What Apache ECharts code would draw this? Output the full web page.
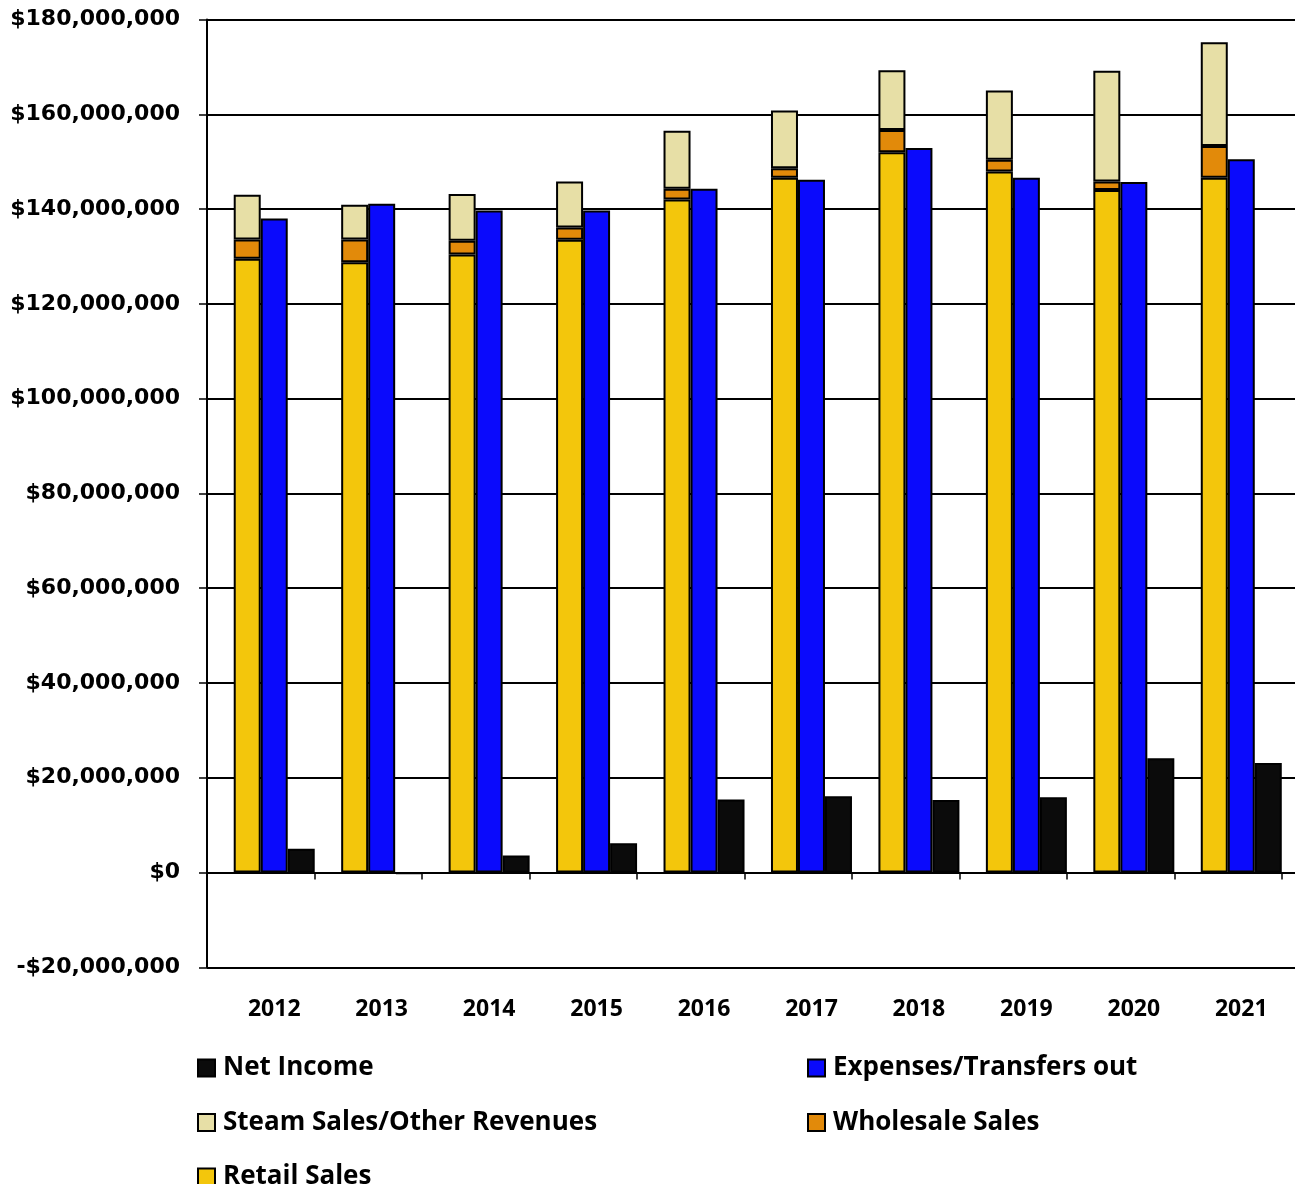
<!DOCTYPE html>
<html>
<head>
<meta charset="utf-8">
<script src="https://cdn.jsdelivr.net/npm/echarts@6/dist/echarts.min.js"></script>
<style>
  html, body { margin: 0; padding: 0; background: #fff; }
  #chart { width: 1295px; height: 1184px; }
</style>
</head>
<body>
<div id="chart"></div>
<script>
// Fiscal years on the category axis
const years = ['2012', '2013', '2014', '2015', '2016', '2017', '2018', '2019', '2020', '2021'];

// Revenue components (stacked), in dollars
const retailSales    = [129500000, 128800000, 130400000, 133500000, 142000000, 146600000, 152000000, 147900000, 144000000, 146600000];
const wholesaleSales = [4100000, 4800000, 2900000, 2600000, 2300000, 2000000, 4700000, 2500000, 1800000, 6700000];
const steamOther     = [9400000, 7300000, 9900000, 9700000, 12200000, 12200000, 12600000, 14600000, 23400000, 21900000];

// Costs and the resulting net income, in dollars
const expenses  = [138000000, 141100000, 139700000, 139700000, 144300000, 146200000, 152900000, 146600000, 145700000, 150500000];
const netIncome = [5000000, -300000, 3600000, 6200000, 15400000, 16100000, 15300000, 15900000, 24100000, 23100000];

// Value axis range
const yMin = -20000000;
const yMax = 180000000;
const yStep = 20000000;

const FONT = '"Open Sans", "Liberation Sans", sans-serif';
const TICK_FONT = '"DejaVu Sans", "Open Sans", sans-serif';
const INK = '#000000';

function money(v) {
  const s = Math.abs(v).toLocaleString('en-US');
  return (v < 0 ? '-$' : '$') + s;
}

const chart = echarts.init(document.getElementById('chart'), null, { renderer: 'canvas' });

const barBorder = { borderColor: INK, borderWidth: 2 };

const legendText = { color: INK, fontFamily: FONT, fontWeight: 'bold', fontSize: 26, lineHeight: 24, padding: [0, 0, 0, 3] };

const option = {
  animation: false,
  backgroundColor: '#ffffff',
  grid: [
    // frame grid: y axis, gridlines, boundary ticks on the zero line
    { left: 207, right: 13, top: 19.5, bottom: 216.7 },
    // bar grid: shifted so each bar group sits against its right boundary
    { left: 220.5, right: 0, top: 19.5, bottom: 216.7 }
  ],
  xAxis: [
    {
      type: 'category', gridIndex: 0, data: years,
      axisLine: { onZero: true, lineStyle: { color: INK, width: 2 } },
      axisTick: { show: true, inside: false, length: 7, lineStyle: { color: INK, width: 1.5 } },
      axisLabel: { show: false },
      splitLine: { show: false }
    },
    {
      type: 'category', gridIndex: 1, data: years, position: 'bottom',
      axisLine: { show: false, onZero: false },
      axisTick: { show: false },
      axisLabel: { show: true, margin: 31, color: INK, fontFamily: FONT, fontWeight: 'bold', fontSize: 23 },
      splitLine: { show: false }
    }
  ],
  yAxis: [
    {
      type: 'value', gridIndex: 0, min: yMin, max: yMax, interval: yStep,
      axisLine: { show: true, lineStyle: { color: INK, width: 2 } },
      axisTick: { show: true, inside: false, length: 8, lineStyle: { color: INK, width: 1.5 } },
      axisLabel: { show: true, margin: 27, color: INK, fontFamily: TICK_FONT, fontWeight: 'bold', fontSize: 22, padding: [5, 0, 0, 0], formatter: money },
      splitLine: { show: true, lineStyle: { color: INK, width: 2 } }
    },
    {
      type: 'value', gridIndex: 1, min: yMin, max: yMax, interval: yStep,
      axisLine: { show: false }, axisTick: { show: false }, axisLabel: { show: false },
      splitLine: { show: true, lineStyle: { color: INK, width: 2 } }
    }
  ],
  legend: [
    {
      orient: 'vertical', left: 197, top: 1055, height: 200, padding: 0,
      data: ['Net Income', 'Steam Sales/Other Revenues', 'Retail Sales'],
      icon: 'rect', itemWidth: 17, itemHeight: 17, itemGap: 28.5,
      itemStyle: { borderColor: INK, borderWidth: 2 },
      textStyle: legendText
    },
    {
      orient: 'vertical', left: 807, top: 1055, height: 200, padding: 0,
      data: ['Expenses/Transfers out', 'Wholesale Sales'],
      icon: 'rect', itemWidth: 17, itemHeight: 17, itemGap: 28.5,
      itemStyle: { borderColor: INK, borderWidth: 2 },
      textStyle: legendText
    }
  ],
  series: [
    {
      name: 'Retail Sales', type: 'bar', stack: 'revenue', xAxisIndex: 1, yAxisIndex: 1,
      data: retailSales, barWidth: 27, barGap: '0%',
      itemStyle: Object.assign({ color: '#F3C60C' }, barBorder)
    },
    {
      name: 'Wholesale Sales', type: 'bar', stack: 'revenue', xAxisIndex: 1, yAxisIndex: 1,
      data: wholesaleSales, barWidth: 27, barGap: '0%',
      itemStyle: Object.assign({ color: '#E28A0A' }, barBorder)
    },
    {
      name: 'Steam Sales/Other Revenues', type: 'bar', stack: 'revenue', xAxisIndex: 1, yAxisIndex: 1,
      data: steamOther, barWidth: 27, barGap: '0%',
      itemStyle: Object.assign({ color: '#E7DFA6' }, barBorder)
    },
    {
      name: 'Expenses/Transfers out', type: 'bar', xAxisIndex: 1, yAxisIndex: 1,
      data: expenses, barWidth: 27, barGap: '0%',
      itemStyle: Object.assign({ color: '#0A0AFC' }, barBorder)
    },
    {
      name: 'Net Income', type: 'bar', xAxisIndex: 1, yAxisIndex: 1,
      data: netIncome, barWidth: 27, barGap: '0%',
      itemStyle: Object.assign({ color: '#0B0B0B' }, barBorder)
    }
  ]
};

chart.setOption(option);
</script>
</body>
</html>
